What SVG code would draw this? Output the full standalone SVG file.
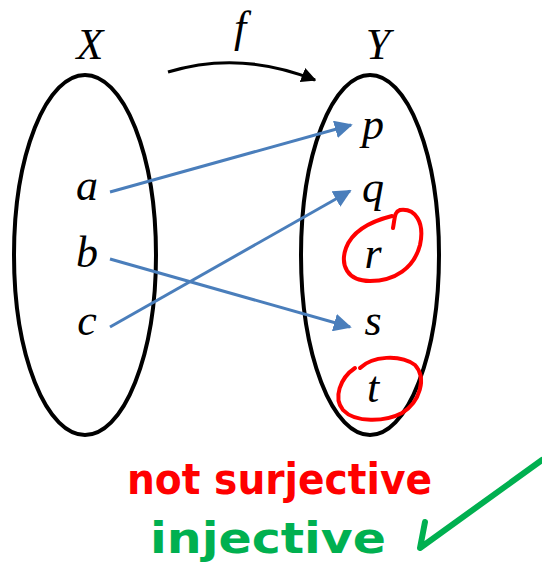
<svg xmlns="http://www.w3.org/2000/svg" width="542" height="579" viewBox="0 0 542 579">
<style>
.set{fill:none;stroke:#000;stroke-width:4}
.lbl{font-family:"Liberation Serif","DejaVu Serif",serif;font-style:italic;font-size:44px;fill:#000;text-anchor:middle}
.map{stroke:#4a7ebb;stroke-width:3;fill:none}
.red{fill:none;stroke:#ff0000;stroke-width:4;stroke-linecap:round}
.hand{font-family:"DejaVu Sans","Liberation Sans",sans-serif;font-size:42px}
</style>
<defs>
<marker id="bh" viewBox="0 0 10 10" refX="9" refY="5" markerWidth="6" markerHeight="6" orient="auto" markerUnits="strokeWidth">
<path d="M0,0 L10,5 L0,10 Z" fill="#4a7ebb"/>
</marker>
<marker id="kh" viewBox="0 0 10 10" refX="9" refY="5" markerWidth="5" markerHeight="5" orient="auto" markerUnits="strokeWidth">
<path d="M0,0 L10,5 L0,10 Z" fill="#000"/>
</marker>
</defs>
<g id="setX">
<ellipse class="set" cx="85" cy="255" rx="71" ry="180"/>
<text class="lbl" x="90" y="59">X</text>
<text class="lbl" x="87" y="200">a</text>
<text class="lbl" x="87" y="267">b</text>
<text class="lbl" x="87" y="335">c</text>
</g>
<g id="setY">
<ellipse class="set" cx="370" cy="255" rx="69" ry="180"/>
<text class="lbl" x="378" y="59">Y</text>
<text class="lbl" x="373" y="139">p</text>
<text class="lbl" x="373" y="202">q</text>
<text class="lbl" x="373" y="268">r</text>
<text class="lbl" x="373" y="335">s</text>
<text class="lbl" x="373" y="402">t</text>
</g>
<g id="fLabel">
<text class="lbl" x="240" y="42">f</text>
</g>
<g id="connectors">
<path d="M168,72 Q240,50 315,80" fill="none" stroke="#000" stroke-width="3" marker-end="url(#kh)"/>
<line class="map" x1="110" y1="192" x2="351" y2="125" marker-end="url(#bh)"/>
<line class="map" x1="110" y1="259" x2="350" y2="327" marker-end="url(#bh)"/>
<line class="map" x1="110" y1="327" x2="350" y2="191" marker-end="url(#bh)"/>
</g>
<g id="annotations">
<path class="red" d="M393,228 C395,218 394,212 400,210 C415,208 425,222 420,245 C414,268 395,281 370,281 C347,281 340,265 346,248 C352,232 368,222 392,216"/>
<path class="red" d="M360,368 C372,356 400,354 415,365 C427,378 420,402 402,413 C385,422 355,423 343,410 C333,398 340,378 355,368"/>
<text class="hand" x="127" y="494" fill="#ff0000" font-weight="bold" textLength="305" lengthAdjust="spacingAndGlyphs">not surjective</text>
<text class="hand" x="150" y="553" fill="#00b050" font-weight="bold" textLength="236" lengthAdjust="spacingAndGlyphs">injective</text>
<path d="M425,522 L420,548 L542,460" fill="none" stroke="#00b050" stroke-width="6" stroke-linecap="round" stroke-linejoin="round"/>
</g>
</svg>
